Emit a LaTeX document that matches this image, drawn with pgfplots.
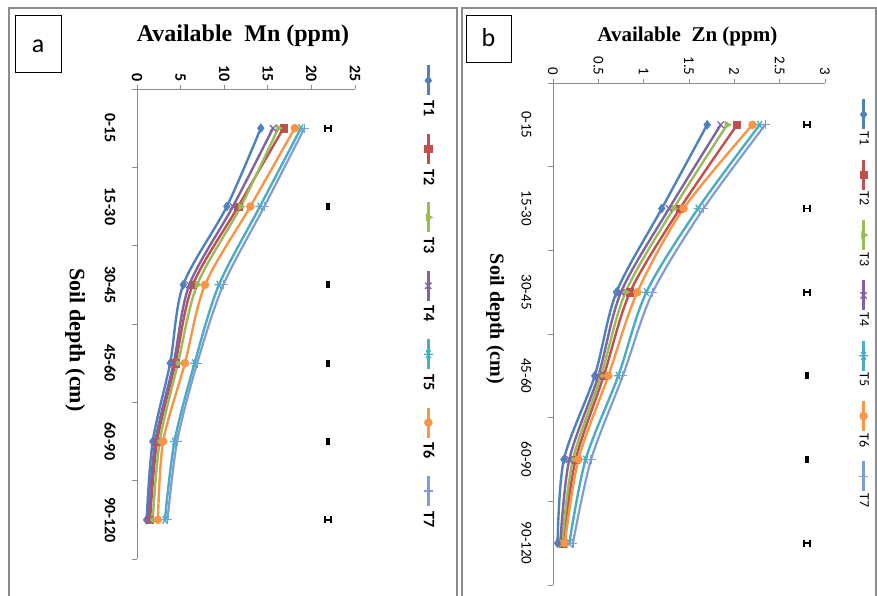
\documentclass[border=0pt]{standalone}
\usepackage{pgfplots}
\pgfplotsset{compat=1.18}
\usepackage{pgfplotstable}
\usepackage{fontspec}
\setmainfont{Liberation Serif}
\newfontfamily\calfont{Carlito}
\definecolor{cT1}{HTML}{4F81BD}
\definecolor{cT2}{HTML}{C0504D}
\definecolor{cT3}{HTML}{9BBB59}
\definecolor{cT4}{HTML}{8064A2}
\definecolor{cT5}{HTML}{4BACC6}
\definecolor{cT6}{HTML}{F79646}
\definecolor{cT7}{HTML}{7F9DD4}
\definecolor{frame}{RGB}{140,140,140}

\newcommand{\legA}{\calfont\bfseries\fontsize{16}{16}\selectfont}
\newcommand{\legB}{\calfont\fontsize{14}{14}\selectfont}
% vertical legend sample with its name below it (the chart is turned a quarter turn)
\newcommand{\legimg}[4]{%
  \draw[mark repeat=2, mark phase=2, #1, line width=2.4pt] plot coordinates {(0pt,0pt) (0pt,-15pt) (0pt,-30pt)};
  \node[rotate=-90, anchor=west, inner sep=0pt, text=black, font=#3] at (0pt,#4) {#2};}

% depth index: -1 = 0-15 ... -6 = 90-120
\pgfplotstableread{
d T1 T2 T3 T4 T5 T6 T7
-1 14.2 16.8 16.2 15.6 18.8 18.1 19.2
-2 10.3 11.6 11.9 11.0 14.1 13.0 14.6
-3 5.3 6.4 6.9 6.0 9.4 7.8 9.9
-4 3.8 4.4 4.7 4.2 6.6 5.5 6.9
-5 1.8 2.3 2.6 2.1 4.3 3.0 4.6
-6 1.1 1.5 1.8 1.3 3.2 2.4 3.5
}\mntable

\pgfplotstableread{
d T1 T2 T3 T4 T5 T6 T7
-1 1.70 2.03 1.92 1.85 2.28 2.20 2.34
-2 1.20 1.40 1.33 1.28 1.60 1.44 1.66
-3 0.70 0.85 0.80 0.75 1.03 0.93 1.10
-4 0.46 0.56 0.53 0.50 0.72 0.61 0.77
-5 0.12 0.25 0.22 0.18 0.36 0.28 0.42
-6 0.05 0.11 0.10 0.08 0.18 0.13 0.22
}\zntable

\pgfplotstableread{
d x e
-1 21.9 0.35
-2 21.9 0.12
-3 21.9 0.12
-4 21.9 0.12
-5 21.9 0.12
-6 21.9 0.35
}\mnerr

\pgfplotstableread{
d x e
-1 2.80 0.032
-2 2.80 0.032
-3 2.80 0.032
-4 2.80 0.012
-5 2.80 0.012
-6 2.80 0.032
}\znerr

\pgfplotsset{
  rotchart/.style={
    scale only axis, clip=false,
    axis x line*=top, axis y line*=left,
    axis line style={-, draw=frame, line width=0.9pt},
    tick align=outside, major tick length=4pt, minor tick length=5pt,
    every major y tick/.append style={draw=none},
    tick style={draw=frame, line width=0.9pt},
    ymin=-6.5, ymax=-0.5,
    ytick={-6,-5,-4,-3,-2,-1},
    yticklabels={90-120,60-90,45-60,30-45,15-30,0-15},
    minor ytick={-6.5,-5.5,-4.5,-3.5,-2.5,-1.5,-0.5},
    /pgf/number format/assume math mode=true,
    xticklabel style={rotate=-90, anchor=east},
    yticklabel style={xshift=-14pt, rotate=-90, anchor=north},
    legend columns=1,
  },
  legA/.style={legend image code/.code={\legimg{##1}{#1}{\legA}{-34pt}}},
  legB/.style={legend image code/.code={\legimg{##1}{#1}{\legB}{-31pt}}},
  s1/.style={cT1, line width=2.4pt, smooth, mark=diamond*, mark size=4.5pt, mark options={solid, line width=0.5pt}},
  s2/.style={cT2, line width=2.4pt, smooth, mark=square*, mark size=3.6pt, mark options={solid, line width=0.5pt}},
  s3/.style={cT3, line width=2.4pt, smooth, mark=triangle*, mark size=4.2pt, mark options={solid, rotate=-90, line width=0.5pt}},
  s4/.style={cT4, line width=2.4pt, smooth, mark=x, mark size=4.5pt, mark options={solid, line width=1.3pt}},
  s5/.style={cT5, line width=2.4pt, smooth, mark=asterisk, mark size=4.5pt, mark options={solid, rotate=90, line width=1.3pt}},
  s6/.style={cT6, line width=2.4pt, smooth, mark=*, mark size=4pt, mark options={solid, line width=0.5pt}},
  s7/.style={cT7, line width=2.2pt, smooth, mark=+, mark size=4.5pt, mark options={solid, line width=1.2pt}},
}

\begin{document}
\begin{tikzpicture}
\useasboundingbox (0pt,0pt) rectangle (877pt,596pt);
% panel frames
\draw[frame, line width=1.2pt] (9pt,0pt) -- (9pt,588pt) -- (457pt,588pt) -- (457pt,0pt);
\draw[frame, line width=1.2pt] (462pt,0pt) -- (462pt,588pt) -- (876pt,588pt) -- (876pt,0pt);
% panel letters
\draw[black, line width=0.8pt] (15pt,581pt) rectangle (61pt,524pt);
\node[font=\calfont\fontsize{26}{26}\selectfont] at (38pt,550pt) {a};
\draw[black, line width=0.8pt] (466pt,581pt) rectangle (511pt,534pt);
\node[font=\calfont\fontsize{26}{26}\selectfont] at (488.5pt,558pt) {b};

% ---------- panel a ----------
\begin{axis}[rotchart,
  at={(137pt,507pt)}, anchor=north west,
  width=218pt, height=470pt,
  xmin=0, xmax=25, xtick={0,5,10,15,20,25},
  tick label style={font=\calfont\bfseries\fontsize{16}{16}\selectfont},
  title={Available\ \ Mn (ppm)},
  title style={at={(axis description cs:0.486,1.1)}, anchor=center, font=\bfseries\fontsize{24}{24}\selectfont},
  every axis y label/.style={at={(axis description cs:-0.284,0.466)}, rotate=-90, anchor=center, font=\bfseries\fontsize{22}{22}\selectfont},
  ylabel={Soil depth (cm)},
  legend style={at={(axis description cs:1.307,1.053)}, anchor=north west, draw=none, fill=none, inner sep=0pt,
    nodes={inner sep=0pt}, row sep=16pt, column sep=0pt},
]
\addplot[s1, legA=T1] table[x=T1, y=d]{\mntable};
\addlegendentry{\mbox{}}
\addplot[s2, legA=T2] table[x=T2, y=d]{\mntable};
\addlegendentry{\mbox{}}
\addplot[s3, legA=T3] table[x=T3, y=d]{\mntable};
\addlegendentry{\mbox{}}
\addplot[s4, legA=T4] table[x=T4, y=d]{\mntable};
\addlegendentry{\mbox{}}
\addplot[s5, legA=T5] table[x=T5, y=d]{\mntable};
\addlegendentry{\mbox{}}
\addplot[s6, legA=T6] table[x=T6, y=d]{\mntable};
\addlegendentry{\mbox{}}
\addplot[s7, legA=T7] table[x=T7, y=d]{\mntable};
\addlegendentry{\mbox{}}
\addplot[draw=none, mark=none, forget plot,
  error bars/.cd, x dir=both, x explicit,
  error bar style={draw=black, solid, line width=1.8pt},
  error mark options={draw=black, solid, rotate=90, line width=1.6pt, mark size=3.5pt}]
  table[x=x, y=d, x error=e]{\mnerr};
\end{axis}

% ---------- panel b ----------
\begin{axis}[rotchart,
  at={(553pt,513pt)}, anchor=north west,
  width=272pt, height=502pt,
  xmin=0, xmax=3, xtick={0,0.5,1,1.5,2,2.5,3},
  tick label style={font=\calfont\fontsize{15}{15}\selectfont},
  title={Available\ \ Zn (ppm)},
  title style={at={(axis description cs:0.494,1.08)}, anchor=center, font=\bfseries\fontsize{21}{21}\selectfont},
  every axis y label/.style={at={(axis description cs:-0.213,0.53)}, rotate=-90, anchor=center, font=\bfseries\fontsize{20}{20}\selectfont},
  ylabel={Soil depth (cm)},
  legend style={at={(axis description cs:1.121,0.970)}, anchor=north west, draw=none, fill=none, inner sep=0pt,
    nodes={inner sep=0pt}, row sep=13pt, column sep=0pt},
]
\addplot[s1, legB=T1] table[x=T1, y=d]{\zntable};
\addlegendentry{\mbox{}}
\addplot[s2, legB=T2] table[x=T2, y=d]{\zntable};
\addlegendentry{\mbox{}}
\addplot[s3, legB=T3] table[x=T3, y=d]{\zntable};
\addlegendentry{\mbox{}}
\addplot[s4, legB=T4] table[x=T4, y=d]{\zntable};
\addlegendentry{\mbox{}}
\addplot[s5, legB=T5] table[x=T5, y=d]{\zntable};
\addlegendentry{\mbox{}}
\addplot[s6, legB=T6] table[x=T6, y=d]{\zntable};
\addlegendentry{\mbox{}}
\addplot[s7, legB=T7] table[x=T7, y=d]{\zntable};
\addlegendentry{\mbox{}}
\addplot[draw=none, mark=none, forget plot,
  error bars/.cd, x dir=both, x explicit,
  error bar style={draw=black, solid, line width=1.8pt},
  error mark options={draw=black, solid, rotate=90, line width=1.6pt, mark size=3.5pt}]
  table[x=x, y=d, x error=e]{\znerr};
\end{axis}
\end{tikzpicture}
\end{document}
